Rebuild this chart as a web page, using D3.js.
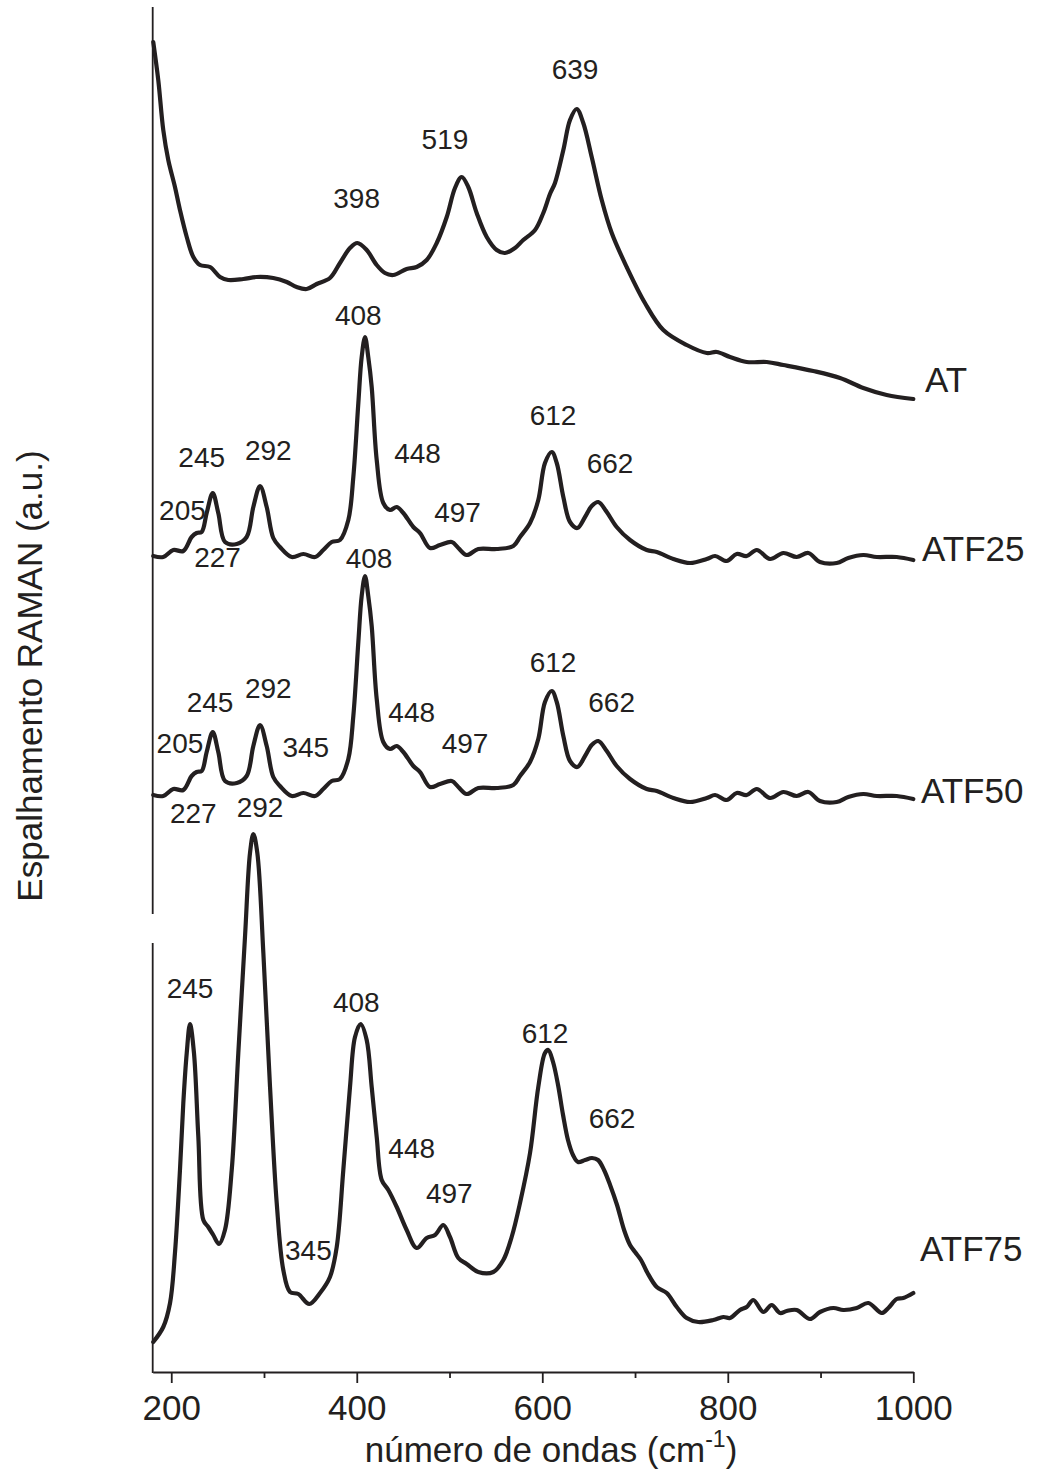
<!DOCTYPE html>
<html><head><meta charset="utf-8">
<script src="https://cdn.jsdelivr.net/npm/d3@7"></script>
<style>body{margin:0;background:#fff}</style>
</head><body><svg id="c" width="1042" height="1477"></svg>
<script>
// ---- data (wavenumber cm-1, intensity a.u. as stacked in the figure) ----
const xTicks = [200, 400, 600, 800, 1000];
const xMinorTicks = [300, 500, 700, 900];
const seriesNames = ["AT", "ATF25", "ATF50", "ATF75"];

const AT = [[180.6,133.0],[186.0,129.2],[191.4,124.2],[196.8,121.2],[204.0,118.5],[209.4,116.2],[216.7,113.5],[223.8,111.5],[231.0,110.7],[241.8,110.5],[252.6,109.5],[261.5,109.2],[277.7,109.3],[292.1,109.5],[310.0,109.4],[324.5,109.0],[335.2,108.5],[346.0,108.3],[356.8,108.8],[371.1,109.4],[381.9,110.9],[392.7,112.4],[400.6,112.9],[410.7,112.2],[421.5,110.7],[430.4,109.9],[439.4,109.7],[453.8,110.3],[464.6,110.5],[475.4,111.2],[486.2,112.9],[497.0,115.5],[505.9,118.4],[513.1,119.5],[520.2,118.5],[529.3,115.9],[540.1,113.5],[550.9,112.2],[559.8,111.9],[570.6,112.4],[579.5,113.2],[592.2,114.2],[601.1,115.9],[608.3,117.8],[613.7,118.9],[622.7,122.2],[629.9,125.2],[637.1,126.3],[644.2,124.9],[653.3,121.5],[664.1,117.2],[674.9,113.9],[691.0,110.5],[710.7,106.9],[730.5,104.2],[755.7,102.7],[777.3,101.9],[788.1,102.0],[802.4,101.5],[820.4,101.0],[842.0,101.0],[859.9,100.7],[892.2,100.1],[921.0,99.4],[946.1,98.4],[971.3,97.7],[1000,97.3]];

const ATF25 = [[180.6,81.6],[191.4,81.5],[202.2,82.2],[213.0,82.1],[222.0,83.5],[227.4,83.9],[232.8,84.0],[238.2,85.9],[244.7,87.9],[250.7,85.9],[258.0,83.0],[270.6,82.8],[281.3,83.5],[288.5,86.5],[295.7,88.6],[302.9,86.5],[310.0,83.4],[317.2,82.5],[329.9,81.5],[342.4,81.8],[355.0,81.5],[363.9,82.2],[373.0,83.0],[381.9,83.2],[390.9,85.2],[396.3,89.5],[401.7,96.9],[405.3,101.5],[408.9,103.5],[412.4,101.5],[416.1,98.5],[421.5,91.2],[428.6,86.9],[435.8,86.2],[443.1,86.5],[450.2,85.9],[461.0,84.5],[468.2,83.9],[479.0,82.4],[489.7,82.7],[502.4,83.0],[509.5,82.4],[518.5,81.7],[531.0,82.3],[550.9,82.3],[568.8,82.6],[576.0,83.5],[586.8,84.9],[595.7,87.2],[602.9,90.9],[610.2,92.0],[615.6,90.9],[622.7,87.5],[629.9,85.0],[637.8,84.4],[646.1,85.5],[653.3,86.6],[660.4,87.0],[669.5,86.0],[680.2,84.5],[694.6,83.2],[712.6,82.2],[723.4,82.0],[741.3,81.3],[759.3,80.9],[777.3,81.3],[786.3,81.6],[798.8,81.1],[809.6,81.8],[820.4,81.6],[831.2,82.2],[845.5,81.3],[859.9,81.9],[874.3,81.5],[886.8,81.9],[899.4,81.0],[917.4,80.9],[929.9,81.4],[946.1,81.7],[960.6,81.5],[982.1,81.5],[1000,81.2]];

const ATF50 = [[180.6,57.7],[191.4,57.6],[202.2,58.3],[213.0,58.2],[222.0,59.6],[227.4,60.0],[232.8,60.1],[238.2,62.0],[244.7,64.0],[250.7,62.0],[258.0,59.1],[270.6,58.9],[281.3,59.6],[288.5,62.6],[295.7,64.7],[302.9,62.6],[310.0,59.5],[317.2,58.6],[329.9,57.6],[342.4,57.9],[355.0,57.6],[363.9,58.3],[373.0,59.1],[381.9,59.3],[390.9,61.3],[396.3,65.6],[401.7,73.0],[405.3,77.6],[408.9,79.6],[412.4,77.6],[416.1,74.6],[421.5,67.3],[428.6,63.0],[435.8,62.3],[443.1,62.6],[450.2,62.0],[461.0,60.6],[468.2,60.0],[479.0,58.5],[489.7,58.8],[502.4,59.1],[509.5,58.5],[518.5,57.8],[531.0,58.4],[550.9,58.4],[568.8,58.7],[576.0,59.6],[586.8,61.0],[595.7,63.3],[602.9,67.0],[610.2,68.1],[615.6,67.0],[622.7,63.6],[629.9,61.1],[637.8,60.5],[646.1,61.6],[653.3,62.7],[660.4,63.1],[669.5,62.1],[680.2,60.6],[694.6,59.3],[712.6,58.3],[723.4,58.1],[741.3,57.4],[759.3,57.0],[777.3,57.4],[786.3,57.7],[798.8,57.2],[809.6,57.9],[820.4,57.7],[831.2,58.3],[845.5,57.4],[859.9,58.0],[874.3,57.6],[886.8,58.0],[899.4,57.1],[917.4,57.0],[929.9,57.5],[946.1,57.8],[960.6,57.6],[982.1,57.6],[1000,57.3]];

const ATF75 = [[180.6,3.0],[191.4,4.5],[198.7,6.9],[204.0,11.9],[209.4,20.2],[213.0,26.9],[216.7,31.9],[220.2,34.8],[224.5,31.9],[229.2,23.5],[234.6,15.2],[239.9,14.5],[245.3,13.7],[251.5,12.8],[257.9,14.2],[265.2,20.2],[272.3,31.9],[279.5,43.5],[284.9,51.9],[288.5,53.8],[292.8,51.9],[299.3,41.9],[306.5,28.5],[313.7,16.9],[320.8,10.2],[328.0,8.0],[337.0,7.8],[348.8,6.8],[360.4,7.9],[371.1,9.5],[378.4,12.5],[385.5,20.2],[392.7,28.5],[398.1,33.5],[404.2,34.8],[410.7,33.2],[416.1,28.5],[421.5,23.5],[426.9,19.2],[434.0,18.2],[443.1,16.5],[453.8,14.2],[464.6,12.4],[475.4,13.4],[484.4,13.7],[493.3,14.7],[500.5,13.5],[509.5,11.4],[518.5,10.8],[531.0,10.0],[547.2,10.0],[558.0,11.2],[567.0,13.5],[576.0,16.9],[586.8,21.9],[595.7,28.5],[602.9,31.9],[606.5,32.2],[611.6,31.0],[617.0,28.7],[622.4,25.7],[627.7,23.2],[633.1,21.7],[638.5,21.0],[646.1,21.2],[653.6,21.4],[660.1,21.2],[666.6,20.2],[673.1,18.7],[680.6,16.7],[688.2,14.2],[694.6,12.7],[700.0,12.0],[706.4,11.2],[712.9,10.0],[723.4,8.5],[734.2,7.9],[745.0,6.5],[755.7,5.4],[768.2,5.0],[784.4,5.2],[795.2,5.5],[802.4,5.4],[813.1,6.2],[820.4,6.5],[827.5,7.2],[838.3,6.0],[847.3,6.7],[856.3,5.9],[863.5,6.1],[874.3,6.2],[888.6,5.3],[899.4,6.0],[913.8,6.4],[924.5,6.2],[939.0,6.4],[951.5,6.9],[965.9,5.9],[973.1,6.4],[982.1,7.3],[989.2,7.4],[1000,7.9]];

// peak annotations: [text, wavenumber, intensity]
const peaksAT = [["398",399.9,116.4],["519",495.1,122.3],["639",635.3,129.3]];
const peaksATF25 = [["408",401.7,104.7],["245",232.8,90.5],["292",304.6,91.2],["205",212.1,85.2],["227",249.9,80.5],["448",465.5,90.9],["497",508.6,85.0],["612",611.6,94.7],["662",673.0,89.9]];
const peaksATF50 = [["408",413.2,80.4],["245",241.8,66.0],["292",304.6,67.4],["205",209.4,61.9],["345",345.1,61.5],["448",459.2,65.0],["497",516.7,61.9],["227",223.8,54.9],["612",611.6,70.0],["662",674.8,66.0]];
const peaksATF75 = [["292",295.7,55.5],["245",220.2,37.4],["408",399.5,36.0],["448",459.2,21.4],["497",499.8,16.9],["345",347.8,11.2],["612",603.0,32.9],["662",675.2,24.4]];
const nameAnchors = [[1012.6,98.0],[1009.4,81.1],[1008.3,56.9],[1007.3,11.1]];
const yBreak = [42.9, 45.9];

// ---- drawing ----
const ink = "#231f20";
const font = "'Liberation Sans', Arial, Helvetica, sans-serif";
const svg = d3.select("#c");
const x = d3.scaleLinear().domain([180, 1000]).range([152.7, 913.3]);
const y = d3.scaleLinear().domain([0, 136.5]).range([1372, 7]);

const line = d3.line().x(d => x(d[0])).y(d => y(d[1])).curve(d3.curveCatmullRom.alpha(0.5));
[AT, ATF25, ATF50, ATF75].forEach(s => {
  svg.append("path").datum(s).attr("d", line)
    .attr("fill", "none").attr("stroke", ink).attr("stroke-width", 4.2)
    .attr("stroke-linejoin", "round").attr("stroke-linecap", "round");
});

// x axis
const gx = svg.append("g").attr("transform", `translate(0,${y(0)})`)
  .call(d3.axisBottom(x).tickValues(xTicks).tickFormat(d3.format("d")).tickSize(11).tickSizeOuter(0).tickPadding(12));
gx.select(".domain").attr("stroke", ink).attr("stroke-width", 1.8);
gx.selectAll(".tick line").attr("stroke", ink).attr("stroke-width", 1.8);
gx.selectAll(".tick text").attr("fill", ink).style("font-family", font).style("font-size", "35px");
const gm = svg.append("g").attr("transform", `translate(0,${y(0)})`)
  .call(d3.axisBottom(x).tickValues(xMinorTicks).tickSize(6).tickFormat(""));
gm.select(".domain").remove();
gm.selectAll(".tick line").attr("stroke", ink).attr("stroke-width", 1.8);

// broken left axis
[[0, yBreak[0]], [yBreak[1], 136.5]].forEach(seg => {
  svg.append("line").attr("x1", x(180)).attr("x2", x(180))
    .attr("y1", y(seg[0]) + 0.9).attr("y2", y(seg[1]))
    .attr("stroke", ink).attr("stroke-width", 1.8);
});

// axis titles
const xt = svg.append("text").attr("x", 551).attr("y", 1462).attr("text-anchor", "middle")
  .attr("fill", ink).style("font-family", font).style("font-size", "35px");
xt.append("tspan").text("número de ondas (cm");
xt.append("tspan").text("-1").style("font-size", "23px").attr("dy", -15);
xt.append("tspan").text(")").attr("dy", 15);

svg.append("text").attr("transform", "translate(42,676) rotate(-90)").attr("text-anchor", "middle")
  .attr("fill", ink).style("font-family", font).style("font-size", "35px")
  .text("Espalhamento RAMAN (a.u.)");

// peak labels
[peaksAT, peaksATF25, peaksATF50, peaksATF75].forEach(arr => {
  svg.append("g").selectAll("text").data(arr).join("text")
    .attr("x", d => x(d[1])).attr("y", d => y(d[2])).attr("text-anchor", "middle")
    .attr("fill", ink).style("font-family", font).style("font-size", "28px")
    .text(d => d[0]);
});

// series names
svg.append("g").selectAll("text").data(seriesNames).join("text")
  .attr("x", (d, i) => x(nameAnchors[i][0])).attr("y", (d, i) => y(nameAnchors[i][1]))
  .attr("fill", ink).style("font-family", font).style("font-size", "35px")
  .text(d => d);
</script>
</body></html>
